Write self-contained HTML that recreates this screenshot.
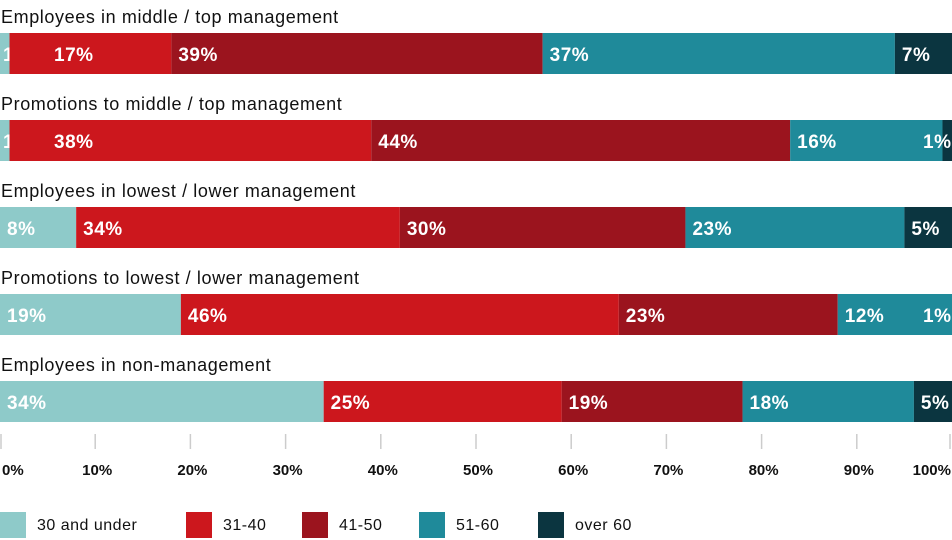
<!DOCTYPE html>
<html><head><meta charset="utf-8">
<style>
body{margin:0;background:#fff;width:952px;height:540px;overflow:hidden;font-family:"Liberation Sans",sans-serif}
svg{display:block}
</style></head>
<body>
<svg id="chart" width="952" height="540" xmlns="http://www.w3.org/2000/svg"></svg>
<script>
const categories=["Employees in middle / top management","Promotions to middle / top management","Employees in lowest / lower management","Promotions to lowest / lower management","Employees in non-management"];
const seriesNames=["30 and under","31-40","41-50","51-60","over 60"];
const s30=[1,1,8,19,34];
const s31=[17,38,34,46,25];
const s41=[39,44,30,23,19];
const s51=[37,16,23,12,18];
const s60=[7,1,5,1,5];
const tickValues=[0,10,20,30,40,50,60,70,80,90,100];
const tickLabels=["0%","10%","20%","30%","40%","50%","60%","70%","80%","90%","100%"];
const colors=["#8ecac9","#cc171d","#9b141e","#1f8a9a","#0b3540"];
const series=[s30,s31,s41,s51,s60];
const svg=document.getElementById('chart');
const NS="http://www.w3.org/2000/svg";
const x=v=>Math.min(952,v*9.52);
const rowY=i=>33+i*87;
const BH=41;
function mk(t,a){const e=document.createElementNS(NS,t);for(const k in a)e.setAttribute(k,a[k]);svg.appendChild(e);return e;}
categories.forEach((c,i)=>{
  const t=mk('text',{x:1,y:rowY(i)-10,'font-size':18,fill:'#111','letter-spacing':'0.6'});
  t.textContent=c;
  
  
  let cum=0,prevRight=-100;
  series.forEach((s,j)=>{
    const v=s[i];const x0=x(cum),x1=x(cum+v);
    const r=mk('rect',{x:x0,y:rowY(i),width:Math.max(0,x1-x0),height:BH,fill:colors[j]});
    
    
    const lab=v+'%';const w=lab.length*11.5;
    let lx=x0+7;
    if(j===4&&(x1-x0)<w+10)lx=946-w;
    if(lx<prevRight+28)lx=prevRight+28;
    if(j===0&&v<3)lx=3;
    const tl=mk('text',{x:lx,y:rowY(i)+28,'font-size':19,'font-weight':'bold',fill:'#fff','letter-spacing':'0.5'});
    tl.textContent=lab;
    
    
    prevRight=lx+w;
    cum+=v;
  });
});
tickValues.forEach((v,k)=>{
  const tx=Math.max(1,Math.min(950,x(v)));
  const l=mk('line',{x1:tx,x2:tx,y1:434,y2:449,stroke:'#ccc','stroke-width':1.5});
  
  
  let anchor='middle',lx=tx+2;
  if(k===0){anchor='start';lx=2;}
  if(k===tickValues.length-1){anchor='end';lx=951;}
  const t=mk('text',{x:lx,y:475,'font-size':15,'font-weight':'bold',fill:'#111','text-anchor':anchor});
  t.textContent=tickLabels[k];
  
  
});
const legX=[0,186,302,419,538];
seriesNames.forEach((n,j)=>{
  const r=mk('rect',{x:legX[j],y:512,width:26,height:26,fill:colors[j]});
  
  
  const t=mk('text',{x:legX[j]+37,y:530,'font-size':16,fill:'#111','letter-spacing':'0.5'});
  t.textContent=n;
  
  
});
</script>
</body></html>
